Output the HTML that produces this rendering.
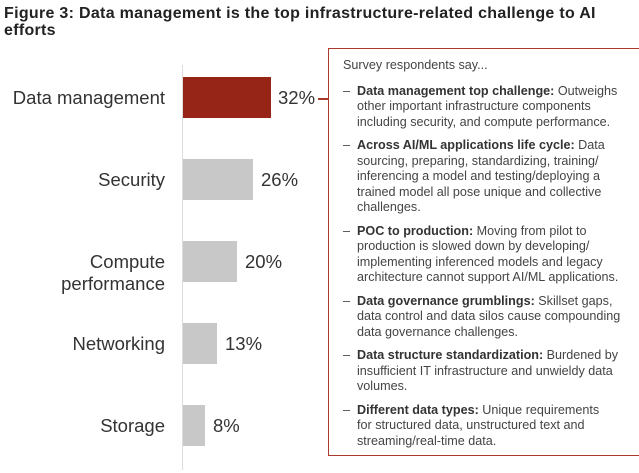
<!DOCTYPE html><html><head><style>
body{margin:0;width:639px;height:473px;background:#fff;font-family:"Liberation Sans",sans-serif;position:relative;overflow:hidden}
.t{position:absolute;left:4px;top:5px;font-weight:bold;font-size:16px;line-height:17px;color:#222;width:630px;letter-spacing:0.3px}
.lab{position:absolute;right:474px;text-align:right;font-size:18.5px;color:#333;line-height:22px}
.bar{position:absolute;left:183px;height:41px;background:#c8c8c8}
.v{position:absolute;font-size:18.5px;color:#333}
.box{position:absolute;left:328px;top:48px;width:320px;height:408px;border:1.5px solid #a83a2c;box-sizing:border-box}
.tx{position:absolute;left:343px;top:58px;width:294px;font-size:12.6px;line-height:15.5px;color:#444}
.tx p{margin:0 0 8px 14px;text-indent:-14px}
.tx p.h{margin:0 0 10px 0;text-indent:0}
b{color:#333}
</style></head><body>
<div class="t">Figure 3: Data management is the top infrastructure-related challenge to AI efforts</div>
<div style="position:absolute;left:182px;top:65px;width:1px;height:405px;background:#ddd"></div>
<div class="lab" style="top:87px">Data management</div>
<div class="lab" style="top:169px">Security</div>
<div class="lab" style="top:251px">Compute<br>performance</div>
<div class="lab" style="top:333px">Networking</div>
<div class="lab" style="top:415px">Storage</div>
<div class="bar" style="top:77px;width:88px;background:#962518"></div>
<div class="bar" style="top:159px;width:70px"></div>
<div class="bar" style="top:241px;width:54px"></div>
<div class="bar" style="top:323px;width:34px"></div>
<div class="bar" style="top:405px;width:22px"></div>
<div class="v" style="left:278px;top:87px">32%</div>
<div class="v" style="left:261px;top:169px">26%</div>
<div class="v" style="left:245px;top:251px">20%</div>
<div class="v" style="left:225px;top:333px">13%</div>
<div class="v" style="left:213px;top:415px">8%</div>
<div style="position:absolute;left:318px;top:98px;width:10px;height:1.5px;background:#a83a2c"></div>
<div class="box"></div>
<div class="tx">
<p class="h">Survey respondents say...</p>
<p>– &nbsp;<b>Data management top challenge:</b> Outweighs other important infrastructure components including security, and compute performance.</p>
<p>– &nbsp;<b>Across AI/ML applications life cycle:</b> Data sourcing, preparing, standardizing, training/ inferencing a model and testing/deploying a trained model all pose unique and collective challenges.</p>
<p>– &nbsp;<b>POC to production:</b> Moving from pilot to production is slowed down by developing/ implementing inferenced models and legacy architecture cannot support AI/ML applications.</p>
<p>– &nbsp;<b>Data governance grumblings:</b> Skillset gaps, data control and data silos cause compounding data governance challenges.</p>
<p>– &nbsp;<b>Data structure standardization:</b> Burdened by insufficient IT infrastructure and unwieldy data volumes.</p>
<p>– &nbsp;<b>Different data types:</b> Unique requirements<br>for structured data, unstructured text and streaming/real-time data.</p>
</div>
</body></html>
